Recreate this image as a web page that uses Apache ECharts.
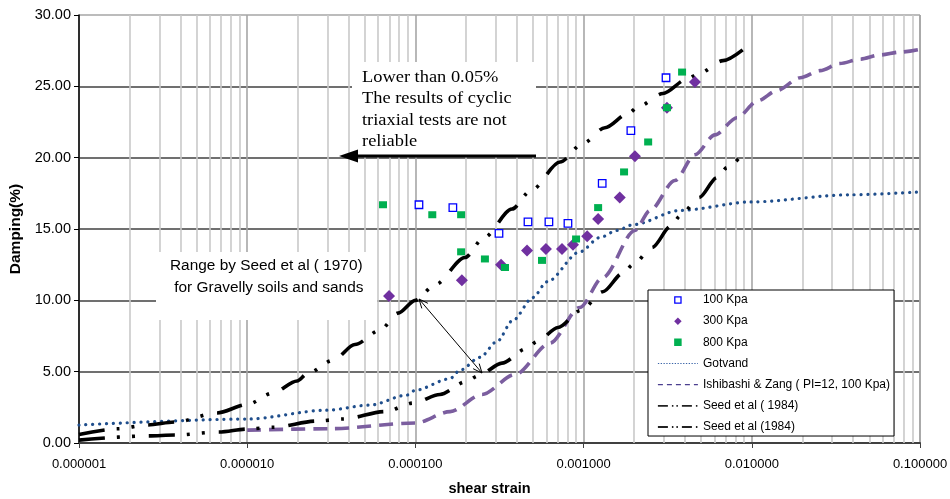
<!DOCTYPE html>
<html>
<head>
<meta charset="utf-8">
<title>Damping vs shear strain</title>
<script src="https://cdn.jsdelivr.net/npm/echarts@6/dist/echarts.min.js"></script>
<style>
html, body { margin: 0; padding: 0; background: #fff; }
#chart { width: 950px; height: 499px; }
</style>
</head>
<body>
<div id="chart"></div>
<script>
// ---- Cyclic triaxial test results: damping (%) vs shear strain ----
const strain100 = [1.05e-4, 1.67e-4, 3.14e-4, 4.67e-4, 6.22e-4, 8.07e-4, 1.29e-3, 1.91e-3, 3.09e-3];
const damping100 = [16.7, 16.5, 14.7, 15.5, 15.5, 15.4, 18.2, 21.9, 25.6];

const strain300 = [6.97e-5, 1.89e-4, 3.23e-4, 4.61e-4, 5.97e-4, 7.44e-4, 8.65e-4, 1.05e-3, 1.22e-3, 1.64e-3, 2.02e-3, 3.13e-3, 4.59e-3];
const damping300 = [10.3, 11.4, 12.5, 13.5, 13.6, 13.6, 13.9, 14.5, 15.7, 17.2, 20.1, 23.5, 25.3];

const strain800 = [6.42e-5, 1.26e-4, 1.87e-4, 1.87e-4, 2.59e-4, 3.41e-4, 5.66e-4, 9.02e-4, 1.22e-3, 1.74e-3, 2.42e-3, 3.13e-3, 3.85e-3];
const damping800 = [16.7, 16.0, 16.0, 13.4, 12.9, 12.3, 12.8, 14.3, 16.5, 19.0, 21.1, 23.5, 26.0];

// ---- Reference curves ----
const strainGotvand = [1e-6, 1e-5, 2.98e-5, 5.4e-5, 8.9e-5, 1e-4, 1.6e-4, 1.84e-4, 2.42e-4, 3.05e-4, 3.8e-4, 5.0e-4, 6.06e-4, 9.5e-4, 1.25e-3, 1.58e-3, 1.97e-3, 3.74e-3, 1e-2, 3.84e-2, 0.1];
const dampingGotvand = [1.26, 1.68, 2.3, 2.66, 3.36, 3.7, 4.5, 5.1, 6.0, 7.1, 8.6, 10.2, 11.3, 13.4, 14.4, 14.9, 15.3, 16.3, 16.9, 17.4, 17.6];

const strainIshibashi = [1e-5, 3.1e-5, 1e-4, 1.61e-4, 2.49e-4, 3.91e-4, 6.31e-4, 9.5e-4, 1.3e-3, 2.02e-3, 2.48e-3, 3.49e-3, 4.59e-3, 6.04e-3, 8.16e-3, 1.09e-2, 1.41e-2, 1.94e-2, 2.55e-2, 3.34e-2, 4.4e-2, 5.78e-2, 7.6e-2, 0.1];
const dampingIshibashi = [0.9, 1.0, 1.4, 2.2, 3.4, 4.8, 7.0, 9.5, 11.6, 14.9, 16.3, 18.4, 20.2, 21.6, 22.8, 24.0, 24.7, 25.6, 26.1, 26.6, 26.9, 27.2, 27.4, 27.6];

const strainSeedUpper = [1e-6, 1.7e-6, 2.54e-6, 3.72e-6, 6.6e-6, 1e-5, 1.42e-5, 1.98e-5, 2.3e-5, 3.24e-5, 4.37e-5, 6.16e-5, 7.88e-5, 1e-4, 1.31e-4, 1.97e-4, 2.56e-4, 3.75e-4, 4.87e-4, 7.24e-4, 9.92e-4, 1.34e-3, 1.84e-3, 2.13e-3, 2.96e-3, 4.12e-3, 4.85e-3, 6.74e-3, 9.36e-3];
const dampingSeedUpper = [0.6, 1.0, 1.26, 1.47, 2.1, 2.7, 3.5, 4.35, 4.9, 5.8, 6.9, 7.9, 9.1, 10.0, 11.1, 13.0, 14.4, 16.4, 17.7, 19.7, 21.0, 22.1, 23.1, 23.6, 24.5, 25.5, 25.9, 26.8, 27.8];

const strainSeedLower = [1e-6, 2.57e-6, 3.72e-6, 6.8e-6, 1e-5, 1.42e-5, 2.6e-5, 3.71e-5, 6.6e-5, 9.7e-5, 1.4e-4, 2.0e-4, 2.36e-4, 3.27e-4, 4.55e-4, 5.29e-4, 7.04e-4, 9.66e-4, 1.3e-3, 1.71e-3, 1.97e-3, 2.55e-3, 3.31e-3, 3.74e-3, 4.85e-3, 6.21e-3, 7.13e-3, 9.12e-3];
const dampingSeedLower = [0.2, 0.5, 0.56, 0.77, 0.98, 1.1, 1.54, 1.68, 2.2, 2.8, 3.4, 4.3, 4.7, 5.6, 6.6, 7.1, 8.1, 9.3, 10.6, 11.9, 12.5, 13.7, 15.2, 15.9, 17.2, 18.6, 19.3, 20.5];

const seriesNames = ['100 Kpa', '300 Kpa', '800 Kpa', 'Gotvand', 'Ishibashi & Zang ( PI=12, 100 Kpa)', 'Seed et al ( 1984)', 'Seed et al (1984)'];

// Axis ranges
const strainMin = 1e-6, strainMax = 0.1;
const dampingMin = 0, dampingMax = 30, dampingStep = 5;

const FONT = '"Liberation Sans", Arial, sans-serif';
const SERIF = '"Liberation Serif", "Times New Roman", serif';

function pairs(xs, ys) { return xs.map((x, i) => [x, ys[i]]); }

// Minor vertical grid lines at 2..9 x each decade
const minorGrid = [];
[1e-6, 1e-5, 1e-4, 1e-3, 1e-2].forEach(d => {
  for (let m = 2; m <= 9; m++) minorGrid.push({ xAxis: +(d * m).toPrecision(3) });
});

// Legend icons (small glyphs padded with near-invisible corner dots so they stay compact)
const pad = 'M-3,-3h0.01v0.01h-0.01zM13,13h0.01v0.01h-0.01z';
const iconOpenSquare = 'path://' + pad + 'M0,0h10v10h-10zM1.7,1.7v6.6h6.6v-6.6z';
const iconDiamond = 'path://' + pad + 'M5,0L10,5L5,10L0,5z';
const iconSquare = 'path://' + pad + 'M0,0h10v10h-10z';

const seedDash = [26, 12, 3, 12, 3, 14];

const chart = echarts.init(document.getElementById('chart'), null, { renderer: 'canvas' });

chart.setOption({
  animation: false,
  backgroundColor: '#fff',
  grid: { left: 79, right: 30, top: 15, bottom: 56, containLabel: false, outerBoundsMode: 'none' },
  xAxis: {
    type: 'log', logBase: 10, min: strainMin, max: strainMax, splitNumber: 5,
    name: 'shear strain', nameLocation: 'middle', nameGap: 38,
    nameTextStyle: { fontFamily: FONT, fontSize: 14.5, fontWeight: 'bold', color: '#000', padding: [0, 20, 0, 0] },
    axisLine: { show: true, onZero: false, lineStyle: { color: '#404040', width: 2 } },
    axisTick: { show: true, inside: false, length: 5, lineStyle: { color: '#404040', width: 1 } },
    minorTick: { show: false },
    minorSplitLine: { show: false },
    axisLabel: { margin: 15, fontFamily: FONT, fontSize: 13, color: '#000', formatter: v => Number(v).toFixed(6) },
    splitLine: { show: true, lineStyle: { color: '#a6a6a6', width: 1.6 } }
  },
  yAxis: {
    type: 'value', min: dampingMin, max: dampingMax, interval: dampingStep,
    name: 'Damping(%)', nameLocation: 'middle', nameGap: 55,
    nameTextStyle: { fontFamily: FONT, fontSize: 15.5, fontWeight: 'bold', color: '#000' },
    axisLine: { show: true, lineStyle: { color: '#000', width: 1.5 } },
    axisTick: { show: true, inside: false, length: 5, lineStyle: { color: '#000', width: 1 } },
    axisLabel: { margin: 8, fontFamily: FONT, fontSize: 14.5, color: '#000', formatter: v => v.toFixed(2) },
    splitLine: { show: true, lineStyle: { color: ['#404040', '#404040', '#404040', '#404040', '#404040', '#404040', '#a6a6a6'], width: 1.6 } }
  },
  legend: {
    orient: 'vertical', left: 648, top: 290,
    padding: [4, 4, 3, 9], itemWidth: 40, itemHeight: 12, itemGap: 9.17,
    backgroundColor: '#fff', borderColor: '#000', borderWidth: 1, borderRadius: 0,
    selectedMode: false,
    textStyle: { fontFamily: FONT, fontSize: 12, color: '#000' },
    data: [
      { name: seriesNames[0], icon: iconOpenSquare, itemStyle: { color: '#0000ff', borderWidth: 0, opacity: 1 } },
      { name: seriesNames[1], icon: iconDiamond, itemStyle: { borderWidth: 0, opacity: 1 } },
      { name: seriesNames[2], icon: iconSquare, itemStyle: { borderWidth: 0, opacity: 1 } },
      { name: seriesNames[3], itemStyle: { opacity: 0 }, lineStyle: { color: '#3a64a8', width: 1.2, type: [1.3, 1.5], cap: 'butt' } },
      { name: seriesNames[4], itemStyle: { opacity: 0 }, lineStyle: { color: '#4b3f8f', width: 1.2, type: [5, 4], cap: 'butt' } },
      { name: seriesNames[5], itemStyle: { opacity: 0 }, lineStyle: { color: '#222', width: 1.8, type: [10, 4, 1.5, 3, 1.5, 4], cap: 'butt' } },
      { name: seriesNames[6], itemStyle: { opacity: 0 }, lineStyle: { color: '#222', width: 1.8, type: [10, 4, 1.5, 3, 1.5, 4], cap: 'butt' } }
    ]
  },
  series: [
    {
      // minor grid lines for the log axis
      id: 'minor-grid', type: 'line', data: [], silent: true,
      markLine: {
        z: 1, silent: true, symbol: ['none', 'none'], animation: false, precision: 12,
        label: { show: false },
        lineStyle: { color: '#c9c9c9', width: 1.6, type: 'solid' },
        emphasis: { disabled: true },
        data: minorGrid
      }
    },
    {
      name: seriesNames[3], type: 'line', data: pairs(strainGotvand, dampingGotvand),
      symbol: 'none', smooth: 0.3, smoothMonotone: 'x',
      lineStyle: { color: '#1f4e8c', width: 3.2, type: [0.1, 6.8], cap: 'round' },
      itemStyle: { color: '#1f4e8c' }, z: 2
    },
    {
      name: seriesNames[4], type: 'line', data: pairs(strainIshibashi, dampingIshibashi),
      symbol: 'none', smooth: 0.3, smoothMonotone: 'x',
      lineStyle: { color: '#7b5e9f', width: 3.6, type: [14, 8], cap: 'butt' },
      itemStyle: { color: '#7b5e9f' }, z: 2
    },
    {
      name: seriesNames[5], type: 'line', data: pairs(strainSeedUpper, dampingSeedUpper),
      symbol: 'none', smooth: 0.3, smoothMonotone: 'x',
      lineStyle: { color: '#000', width: 3.6, type: seedDash, cap: 'butt' },
      itemStyle: { color: '#000' }, z: 2
    },
    {
      name: seriesNames[6], type: 'line', data: pairs(strainSeedLower, dampingSeedLower),
      symbol: 'none', smooth: 0.3, smoothMonotone: 'x',
      lineStyle: { color: '#000', width: 3.6, type: seedDash, cap: 'butt' },
      itemStyle: { color: '#000' }, z: 2
    },
    {
      name: seriesNames[0], type: 'scatter', data: pairs(strain100, damping100),
      symbol: 'rect', symbolSize: 7.5,
      itemStyle: { color: '#fff', borderColor: '#0000ff', borderWidth: 1.3, opacity: 1 }, z: 3
    },
    {
      name: seriesNames[1], type: 'scatter', data: pairs(strain300, damping300),
      symbol: 'diamond', symbolSize: 12,
      itemStyle: { color: '#7030a0', opacity: 1 }, z: 3
    },
    {
      name: seriesNames[2], type: 'scatter', data: pairs(strain800, damping800),
      symbol: 'rect', symbolSize: [8, 7],
      itemStyle: { color: '#00b050', opacity: 1 }, z: 3
    }
  ],
  graphic: [
    // note box: unreliable range of cyclic triaxial results
    { type: 'rect', z: 1.5, silent: true, shape: { x: 352, y: 62, width: 184, height: 93 }, style: { fill: '#fff' } },
    {
      type: 'text', z: 1.6, silent: true, x: 362, y: 67, scaleX: 1.15,
      style: {
        x: 0, y: 0, fill: '#000', font: '16px ' + SERIF, lineHeight: 21.5,
        text: 'Lower than 0.05%\nThe results of cyclic\ntriaxial tests are not\nreliable'
      }
    },
    { type: 'line', z: 5, silent: true, shape: { x1: 536, y1: 156, x2: 354, y2: 156 }, style: { stroke: '#000', lineWidth: 3 } },
    { type: 'polygon', z: 5, silent: true, shape: { points: [[339, 156], [358, 149.5], [358, 162.5]] }, style: { fill: '#000' } },
    // note box: Seed et al (1970) range
    { type: 'rect', z: 1.5, silent: true, shape: { x: 156, y: 252, width: 221, height: 68 }, style: { fill: '#fff' } },
    {
      type: 'text', z: 1.6, silent: true, x: 170, y: 255, scaleX: 1.1,
      style: {
        x: 0, y: 0, fill: '#000', font: '14px ' + FONT, lineHeight: 22,
        text: 'Range by Seed et al ( 1970)\n for Gravelly soils and sands'
      }
    },
    { type: 'line', z: 5, silent: true, shape: { x1: 419, y1: 299, x2: 482, y2: 373 }, style: { stroke: '#000', lineWidth: 1 } },
    { type: 'polyline', z: 5, silent: true, shape: { points: [[421.8, 308.4], [419, 299], [427.9, 303.3]] }, style: { stroke: '#000', lineWidth: 1, fill: null } },
    { type: 'polyline', z: 5, silent: true, shape: { points: [[473.1, 368.7], [482, 373], [479.2, 363.6]] }, style: { stroke: '#000', lineWidth: 1, fill: null } }
  ]
});
</script>
</body>
</html>
